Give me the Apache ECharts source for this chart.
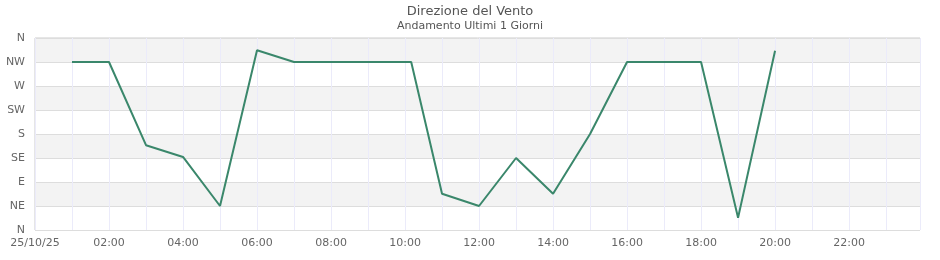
<!DOCTYPE html>
<html>
<head>
<meta charset="utf-8">
<script src="https://cdn.jsdelivr.net/npm/echarts@6/dist/echarts.min.js"></script>
<style>html,body{margin:0;padding:0;background:#fff}#c{width:940px;height:260px}</style>
</head>
<body>
<div id="c"></div>
<script>
var times = ['01:00','02:00','03:00','04:00','05:00','06:00','07:00','08:00','09:00','10:10','11:00','12:00','13:00','14:00','15:00','16:00','17:00','18:00','19:00','20:00'];
var directions = [315,315,159,137,45,337,315,315,315,315,68,45,135,68,180,315,315,315,23,336];
var dirLabels = ['N','NE','E','SE','S','SW','W','NW','N'];
var dateLabel = '25/10/25';

function toHours(t){var p=t.split(':');return +p[0]+(+p[1])/60;}
var data = times.map(function(t,i){return [toHours(t), directions[i]];});

var chart = echarts.init(document.getElementById('c'));
chart.setOption({
  animation:false,
  title:{
    text:'Direzione del Vento', subtext:'Andamento Ultimi 1 Giorni',
    left:'center', top:0, itemGap:3,
    textStyle:{fontFamily:'DejaVu Sans',fontSize:13,fontWeight:'normal',color:'#555'},
    subtextStyle:{fontFamily:'DejaVu Sans',fontSize:11,color:'#555'}
  },
  grid:{left:35,right:20,top:38,bottom:30,show:true,borderColor:'#ccc',borderWidth:1},
  xAxis:{
    type:'value', min:0, max:23+55/60, interval:1,
    axisLine:{show:false}, axisTick:{show:false},
    splitLine:{show:true,lineStyle:{color:'#ebebfa',width:1}},
    axisLabel:{
      color:'#666', fontFamily:'DejaVu Sans', fontSize:11, margin:8,
      showMaxLabel:false,
      formatter:function(v){
        if(v===0) return dateLabel;
        if(Math.abs(v-Math.round(v))>1e-6 || Math.round(v)%2) return '';
        var h=Math.round(v); return (h<10?'0':'')+h+':00';
      }
    }
  },
  yAxis:{
    type:'value', min:0, max:360, interval:45,
    axisLine:{show:false}, axisTick:{show:false},
    splitLine:{show:true,lineStyle:{color:'#ddd',width:1}},
    splitArea:{show:true,areaStyle:{color:['#ffffff','#f3f3f3']}},
    axisLabel:{
      color:'#666', fontFamily:'DejaVu Sans', fontSize:11, margin:10,
      formatter:function(v){return dirLabels[Math.round(v/45)];}
    }
  },
  series:[{
    type:'line', data:data, symbol:'none',
    lineStyle:{color:'#3a876b',width:2}
  }]
});
</script>
</body>
</html>
